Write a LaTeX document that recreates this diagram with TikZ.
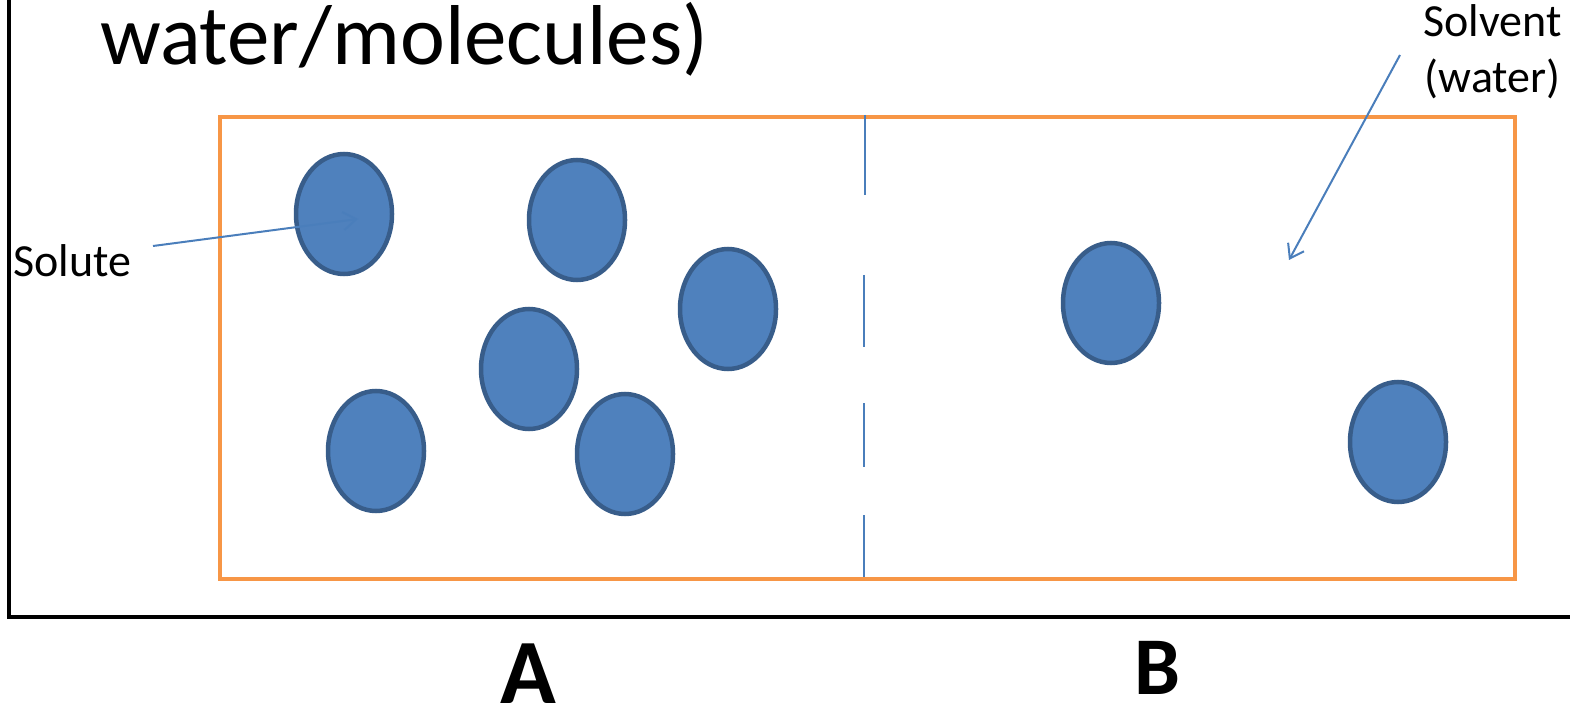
\documentclass[tikz,border=0pt]{standalone}
\usepackage{fontspec}
\setmainfont{Carlito}
\usetikzlibrary{shapes.geometric,arrows.meta}
\definecolor{solfill}{HTML}{4F81BD}
\definecolor{soledge}{HTML}{385D8A}
\definecolor{boxorange}{HTML}{F79646}
\definecolor{arrowblue}{HTML}{4A7EBB}
\tikzset{
  molecule/.style={ellipse, draw=soledge, fill=solfill, line width=4.5pt, minimum width=96pt, minimum height=120pt, inner sep=0pt},
  pointer/.style={draw=arrowblue, line width=2pt, -{Straight Barb[length=13pt,width=18pt,line width=2pt]}},
  label/.style={inner sep=0pt, font=\fontsize{46}{56}\selectfont, align=center},
}
\begin{document}
\begin{tikzpicture}[x=1pt,y=-1pt]
\useasboundingbox (0,0) rectangle (1570,708);
% axes frame
\draw[line width=4.5pt, black] (9,0) -- (9,617) -- (1570,617);
% title
\node[anchor=base west, inner sep=0pt, font=\fontsize{85}{100}\selectfont] (title) at (100,65) {water/molecules)};
% container
\node[draw=boxorange, line width=4pt, minimum width=1295pt, minimum height=462pt, inner sep=0pt, anchor=north west] (box) at (218,115) {};
% membrane (dashed)
\coordinate (m1a) at (865,115); \coordinate (m1b) at (865,195);
\coordinate (m2a) at (864,275); \coordinate (m2b) at (864,347);
\coordinate (m3a) at (864,403); \coordinate (m3b) at (864,467);
\coordinate (m4a) at (864,515); \coordinate (m4b) at (864,577);
\draw[arrowblue, line width=1.8pt] (m1a) -- (m1b) (m2a) -- (m2b) (m3a) -- (m3b) (m4a) -- (m4b);
% molecules
\node[molecule] (e1) at (344,214) {};
\node[molecule] (e2) at (577,220) {};
\node[molecule] (e3) at (728,309) {};
\node[molecule] (e4) at (529,369) {};
\node[molecule] (e5) at (376,451) {};
\node[molecule] (e6) at (625,454) {};
\node[molecule] (e7) at (1111,303) {};
\node[molecule] (e8) at (1398,442) {};
% labels
\node[label, anchor=base west] (solute) at (13,277) {Solute};
\coordinate (soluteStart) at (153,246);
\coordinate (soluteEnd) at (358,219);
\draw[pointer] (soluteStart) -- (soluteEnd);
\node[label, anchor=north east] (solvent) at (1562,4) {Solvent\\(water)};
\coordinate (solventStart) at (1400,55);
\coordinate (solventEnd) at (1289,260);
\draw[pointer] (solventStart) -- (solventEnd);
\node[inner sep=0pt, anchor=base, font=\fontsize{92}{100}\selectfont\bfseries] (A) at (528,703) {A};
\node[inner sep=0pt, anchor=base, font=\fontsize{82}{100}\selectfont\bfseries] (B) at (1157,694) {B};
\end{tikzpicture}
\end{document}
